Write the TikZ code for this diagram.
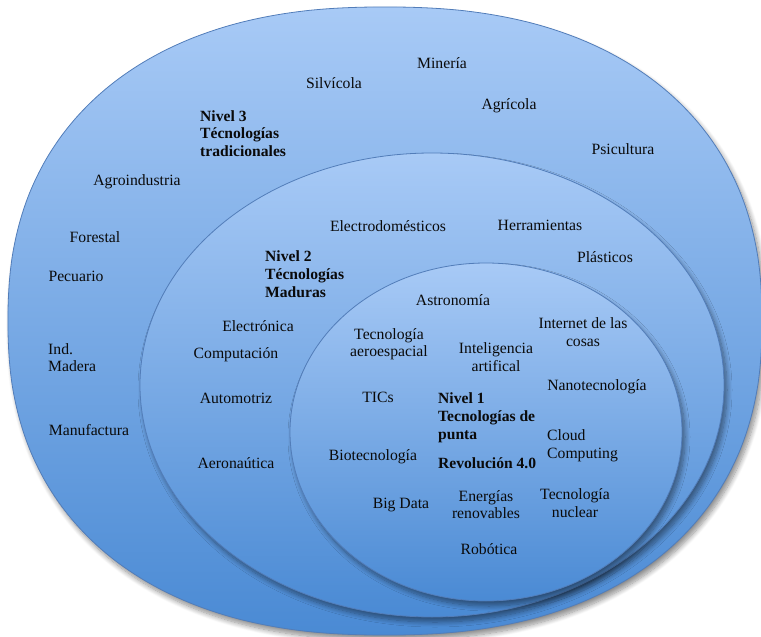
\documentclass[tikz,border=0pt]{standalone}
\usepackage{fontspec}
\setmainfont{Liberation Serif}
\usetikzlibrary{shadows.blur}
\definecolor{shtop}{RGB}{168,202,246}
\definecolor{shbot}{RGB}{74,138,212}
\definecolor{edgeblue}{RGB}{82,125,185}
\definecolor{ink}{RGB}{10,10,10}
\tikzset{
  venn/.style={draw=edgeblue, line width=0.8pt, top color=shtop, bottom color=shbot,
    blur shadow={shadow xshift=3pt, shadow yshift=-5pt, shadow blur radius=5pt, shadow blur steps=10, shadow opacity=45}},
  txt/.style={font=\fontsize{15.7}{17.5}\selectfont, inner sep=0pt, text=ink, align=center},
  txtl/.style={txt, align=left, anchor=west},
  bld/.style={font=\fontsize{15.6}{17.8}\selectfont\bfseries, inner sep=0pt, text=ink, align=left, anchor=west}
}
\begin{document}
\begin{tikzpicture}[x=1pt,y=1pt]
\useasboundingbox (0,0) rectangle (761,-637);
% outer (slightly squarish ellipse)
\path[venn] plot[domain=1:361, samples=181, smooth]
  ({385+377*sign(cos(\x))*pow(abs(cos(\x)),0.87)}, {-321+314*sign(sin(\x))*pow(abs(sin(\x)),0.87)}) -- cycle;
% middle
\path[venn] (432,-385) ellipse [x radius=292, y radius=232];
% inner
\path[venn] (486,-432) ellipse [x radius=196, y radius=169];

% level 3
\node[txt] (mineria) at (442,-63) {Minería};
\node[txt] (silvicola) at (334,-83) {Silvícola};
\node[txt] (agricola) at (509,-106) {Agrícola};
\node[txt] (psicultura) at (623,-149) {Psicultura};
\node[bld] (nivel3) at (200,-133.5) {Nivel 3\\Técnologías\\tradicionales};
\node[txt] (agroindustria) at (137,-182) {Agroindustria};
\node[txt] (forestal) at (95,-237) {Forestal};
\node[txt] (pecuario) at (76,-276) {Pecuario};
\node[txtl] (madera) at (48,-357.5) {Ind.\\Madera};
\node[txt] (manufactura) at (89,-430) {Manufactura};

% level 2
\node[txt] (electrodomesticos) at (388,-226) {Electrodomésticos};
\node[txt] (herramientas) at (540,-225) {Herramientas};
\node[txt] (plasticos) at (605,-257) {Plásticos};
\node[bld] (nivel2) at (265,-274) {Nivel 2\\Técnologías\\Maduras};
\node[txt] (electronica) at (258,-326) {Electrónica};
\node[txt] (computacion) at (236,-355) {Computación};
\node[txt] (automotriz) at (236,-398) {Automotriz};
\node[txt] (aeronautica) at (236,-463) {Aeronaútica};

% level 1
\node[txt] (astronomia) at (453,-300) {Astronomía};
\node[txt] (aeroespacial) at (389,-344) {Tecnología\\aeroespacial};
\node[txt] (inteligencia) at (496,-357) {Inteligencia\\artifical};
\node[txt] (internet) at (583,-332) {Internet de las\\cosas};
\node[txt] (tics) at (378,-397) {TICs};
\node[bld] (nivel1) at (438,-418) {Nivel 1\\Tecnologías de\\punta};
\node[bld] (revolucion) at (438,-463) {Revolución 4.0};
\node[txt] (nano) at (597,-387) {Nanotecnología};
\node[txtl] (cloud) at (547,-445.5) {Cloud\\Computing};
\node[txt] (biotec) at (373,-457) {Biotecnología};
\node[txt] (bigdata) at (401,-505) {Big Data};
\node[txt] (energias) at (486,-504.5) {Energías\\renovables};
\node[txt] (nuclear) at (575,-503) {Tecnología\\nuclear};
\node[txt] (robotica) at (489,-549) {Robótica};
\end{tikzpicture}
\end{document}
